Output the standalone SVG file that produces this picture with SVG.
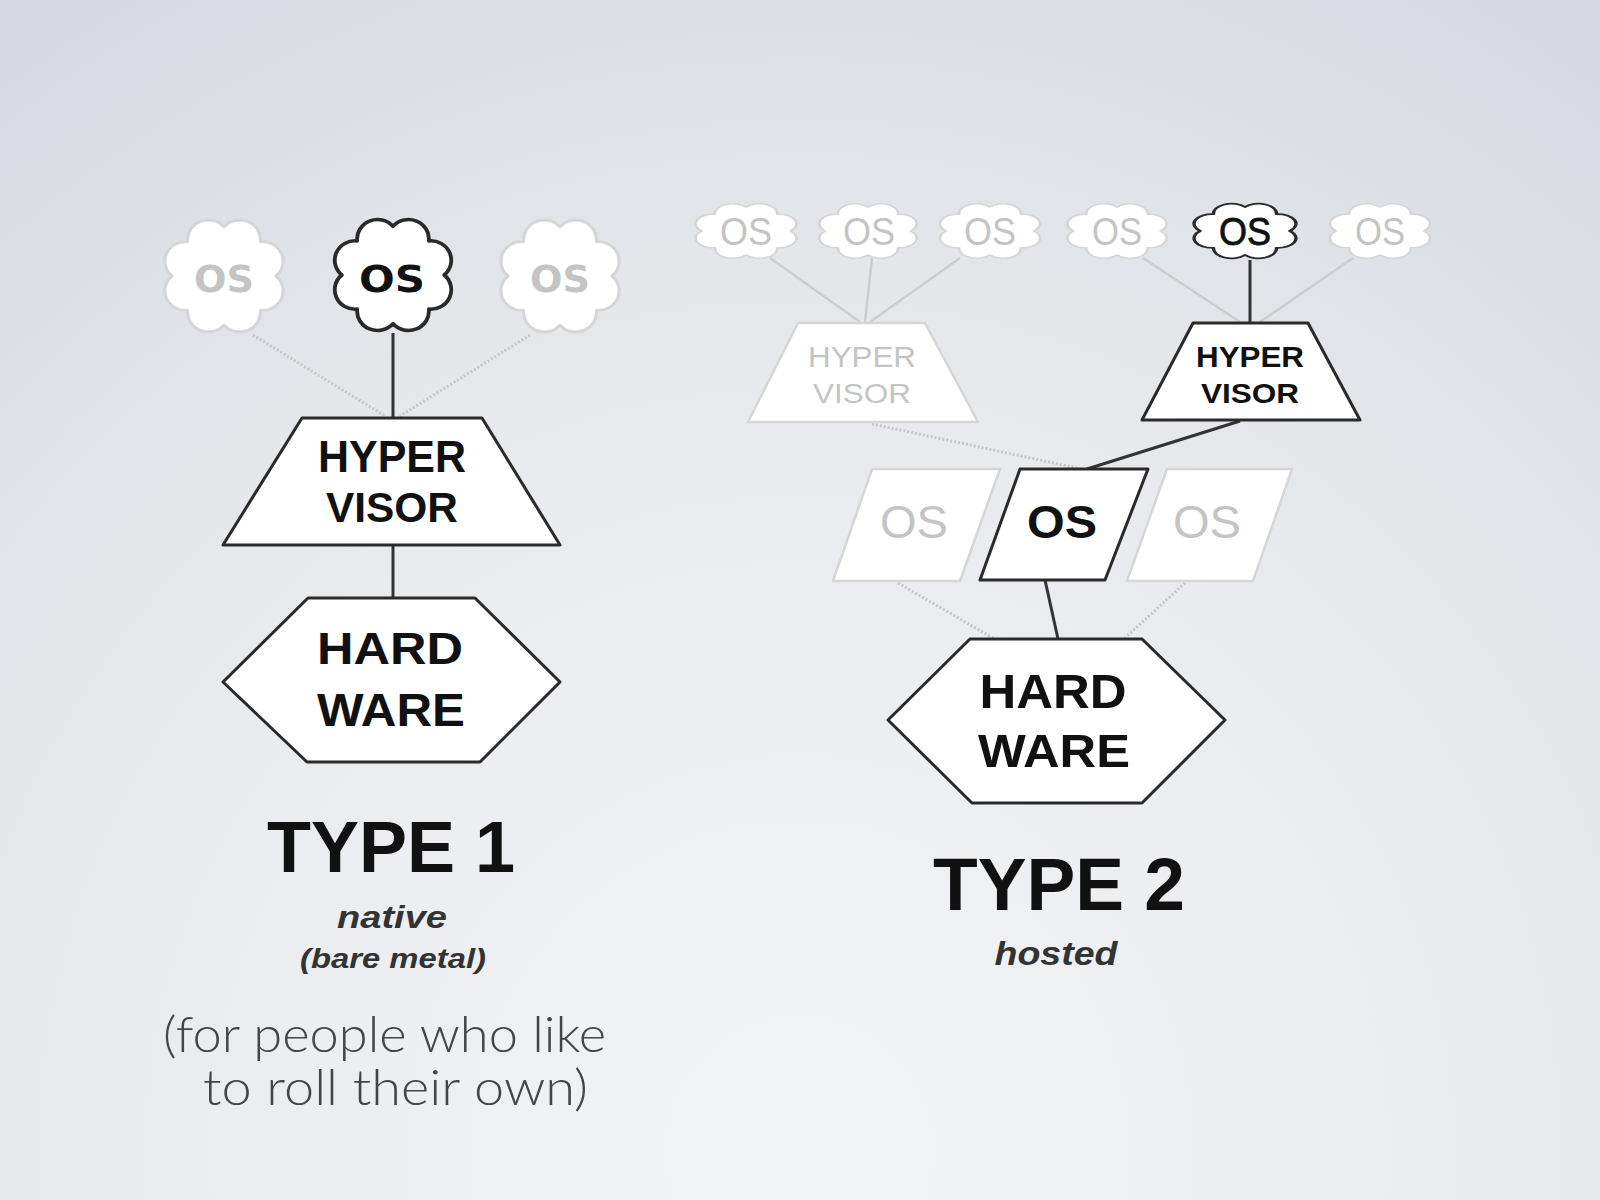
<svg xmlns="http://www.w3.org/2000/svg" width="1600" height="1200" viewBox="0 0 1600 1200">
<defs>
<radialGradient id="bg" cx="800" cy="1150" r="1350" gradientUnits="userSpaceOnUse">
<stop offset="0" stop-color="#f3f4f6"/>
<stop offset="0.55" stop-color="#e8eaed"/>
<stop offset="1" stop-color="#d6dae0"/>
</radialGradient>
<path id="cloud" d="M40,0 A16,16 0 0 1 28,28 A16,16 0 0 1 0,40 A16,16 0 0 1 -28,28 A16,16 0 0 1 -40,0 A16,16 0 0 1 -28,-28 A16,16 0 0 1 0,-40 A16,16 0 0 1 28,-28 A16,16 0 0 1 40,0 Z"/>
<style>
.dark{fill:#fff;stroke:#2a2a2a;stroke-width:3;stroke-linejoin:round}
.light{fill:#fff;stroke:#d6d6d6;stroke-width:2.5;stroke-linejoin:round}
.cl{vector-effect:non-scaling-stroke}
.t{font-family:"Liberation Sans",Arial,sans-serif;text-anchor:middle}
.tb{font-family:"Liberation Sans",Arial,sans-serif;font-weight:bold;text-anchor:middle;fill:#111}
.tg{fill:#c4c4c4}
.dv{font-family:"DejaVu Sans",sans-serif;font-weight:bold;text-anchor:middle}
.cd{stroke:#333;stroke-width:3;fill:none}
.cg{stroke:#cdcdcd;stroke-width:2.5;fill:none}
.cdot{stroke:#c6c6c6;stroke-width:3;fill:none;stroke-dasharray:2 2}
.it{font-family:"Liberation Sans",Arial,sans-serif;font-weight:bold;font-style:italic;text-anchor:middle;fill:#333}
.note{font-family:Lato,"Open Sans",sans-serif;font-weight:300;fill:#454545;font-size:50px}
</style>
</defs>
<rect width="1600" height="1200" fill="url(#bg)"/>

<g id="connectors">
<line class="cdot" x1="253" y1="335" x2="385" y2="416"/>
<line class="cdot" x1="530" y1="335" x2="400" y2="416"/>
<line class="cd" x1="393" y1="333" x2="393" y2="418"/>
<line class="cd" x1="393" y1="545" x2="393" y2="598"/>

<line class="cg" x1="770" y1="258" x2="860" y2="322"/>
<line class="cg" x1="872" y1="258" x2="865" y2="322"/>
<line class="cg" x1="960" y1="258" x2="870" y2="322"/>
<line class="cg" x1="1143" y1="258" x2="1240" y2="322"/>
<line class="cg" x1="1353" y1="258" x2="1260" y2="322"/>
<line class="cd" x1="1250" y1="260" x2="1250" y2="323"/>
<line class="cdot" x1="872" y1="424" x2="1077" y2="468"/>
<line class="cd" x1="1240" y1="421" x2="1087" y2="469"/>
<line class="cdot" x1="898" y1="583" x2="993" y2="638"/>
<line class="cdot" x1="1185" y1="583" x2="1125" y2="638"/>
<line class="cd" x1="1045" y1="580" x2="1058" y2="639"/>
</g>

<g id="t1-os-left">
<use href="#cloud" class="light cl" transform="translate(224,276) scale(1.3,1.23)"/>
<text class="dv tg" x="224" y="292" font-size="37" textLength="60" lengthAdjust="spacingAndGlyphs">OS</text>
</g>
<g id="t1-os-center">
<use href="#cloud" class="dark cl" transform="translate(393,275) scale(1.28,1.22)"/>
<text class="dv" fill="#111" x="392" y="292" font-size="37" textLength="66" lengthAdjust="spacingAndGlyphs">OS</text>
</g>
<g id="t1-os-right">
<use href="#cloud" class="light cl" transform="translate(560,276) scale(1.3,1.23)"/>
<text class="dv tg" x="560" y="292" font-size="37" textLength="60" lengthAdjust="spacingAndGlyphs">OS</text>
</g>
<g id="t1-hypervisor">
<polygon class="dark" points="302,418 482,418 560,545 223,545"/>
<text class="tb" x="392" y="472" font-size="44" textLength="148" lengthAdjust="spacingAndGlyphs">HYPER</text>
<text class="tb" x="392" y="522" font-size="43" textLength="132" lengthAdjust="spacingAndGlyphs">VISOR</text>
</g>
<g id="t1-hardware">
<polygon class="dark" points="308,598 475,598 560,682 480,762 307,762 223,682"/>
<text class="tb" x="390" y="664" font-size="45" textLength="146" lengthAdjust="spacingAndGlyphs">HARD</text>
<text class="tb" x="391" y="726" font-size="46" textLength="148" lengthAdjust="spacingAndGlyphs">WARE</text>
</g>
<g id="t1-label">
<text class="tb" x="391" y="872" font-size="72" textLength="248" lengthAdjust="spacingAndGlyphs">TYPE 1</text>
<text class="it" x="392" y="928" font-size="31" textLength="110" lengthAdjust="spacingAndGlyphs">native</text>
<text class="it" x="393" y="968" font-size="27" textLength="186" lengthAdjust="spacingAndGlyphs">(bare metal)</text>
</g>

<g id="t2-os-1">
<use href="#cloud" class="light cl" transform="translate(746,231) scale(1.11,0.6)"/>
<text class="t tg" x="746" y="245" font-size="38" textLength="52" lengthAdjust="spacingAndGlyphs">OS</text>
</g>
<g id="t2-os-2">
<use href="#cloud" class="light cl" transform="translate(868,231) scale(1.07,0.6)"/>
<text class="t tg" x="869" y="245" font-size="38" textLength="52" lengthAdjust="spacingAndGlyphs">OS</text>
</g>
<g id="t2-os-3">
<use href="#cloud" class="light cl" transform="translate(990,231) scale(1.1,0.6)"/>
<text class="t tg" x="990" y="245" font-size="38" textLength="52" lengthAdjust="spacingAndGlyphs">OS</text>
</g>
<g id="t2-os-4">
<use href="#cloud" class="light cl" transform="translate(1117,231) scale(1.09,0.6)"/>
<text class="t tg" x="1117" y="245" font-size="38" textLength="50" lengthAdjust="spacingAndGlyphs">OS</text>
</g>
<g id="t2-os-5">
<use href="#cloud" class="dark cl" transform="translate(1245,231) scale(1.12,0.6)"/>
<text class="t" fill="#111" stroke="#111" stroke-width="0.8" x="1245" y="245" font-size="38" textLength="52" lengthAdjust="spacingAndGlyphs">OS</text>
</g>
<g id="t2-os-6">
<use href="#cloud" class="light cl" transform="translate(1380,231) scale(1.1,0.6)"/>
<text class="t tg" x="1380" y="245" font-size="38" textLength="50" lengthAdjust="spacingAndGlyphs">OS</text>
</g>

<g id="t2-hypervisor-left">
<polygon class="light" points="798,323 925,323 978,422 748,422"/>
<text class="t tg" x="862" y="367" font-size="29" textLength="108" lengthAdjust="spacingAndGlyphs">HYPER</text>
<text class="t tg" x="862" y="403" font-size="28" textLength="98" lengthAdjust="spacingAndGlyphs">VISOR</text>
</g>
<g id="t2-hypervisor-right">
<polygon class="dark" points="1193,323 1308,323 1360,420 1142,420"/>
<text class="tb" fill="#222" x="1250" y="367" font-size="29" textLength="108" lengthAdjust="spacingAndGlyphs">HYPER</text>
<text class="tb" fill="#222" x="1250" y="403" font-size="28" textLength="98" lengthAdjust="spacingAndGlyphs">VISOR</text>
</g>

<g id="t2-os-guest-left">
<polygon class="light" points="872,469 1000,469 960,581 833,581"/>
<text class="t tg" x="914" y="538" font-size="46" textLength="68" lengthAdjust="spacingAndGlyphs">OS</text>
</g>
<g id="t2-os-host">
<polygon class="dark" points="1020,469 1148,469 1105,580 980,580"/>
<text class="tb" x="1062" y="538" font-size="46" textLength="70" lengthAdjust="spacingAndGlyphs">OS</text>
</g>
<g id="t2-os-guest-right">
<polygon class="light" points="1167,469 1292,469 1253,581 1127,581"/>
<text class="t tg" x="1207" y="538" font-size="46" textLength="68" lengthAdjust="spacingAndGlyphs">OS</text>
</g>

<g id="t2-hardware">
<polygon class="dark" points="970,639 1142,639 1225,720 1142,803 972,803 888,720"/>
<text class="tb" x="1053" y="708" font-size="48" textLength="147" lengthAdjust="spacingAndGlyphs">HARD</text>
<text class="tb" x="1054" y="767" font-size="47" textLength="152" lengthAdjust="spacingAndGlyphs">WARE</text>
</g>
<g id="t2-label">
<text class="tb" x="1059" y="910" font-size="74" textLength="252" lengthAdjust="spacingAndGlyphs">TYPE 2</text>
<text class="it" x="1056" y="965" font-size="34" textLength="123" lengthAdjust="spacingAndGlyphs">hosted</text>
</g>

<g id="note">
<text class="note"><tspan x="163" y="1052" textLength="443" lengthAdjust="spacingAndGlyphs">(for people who like</tspan><tspan x="203" y="1105" textLength="385" lengthAdjust="spacingAndGlyphs">to roll their own)</tspan></text>
</g>
</svg>
